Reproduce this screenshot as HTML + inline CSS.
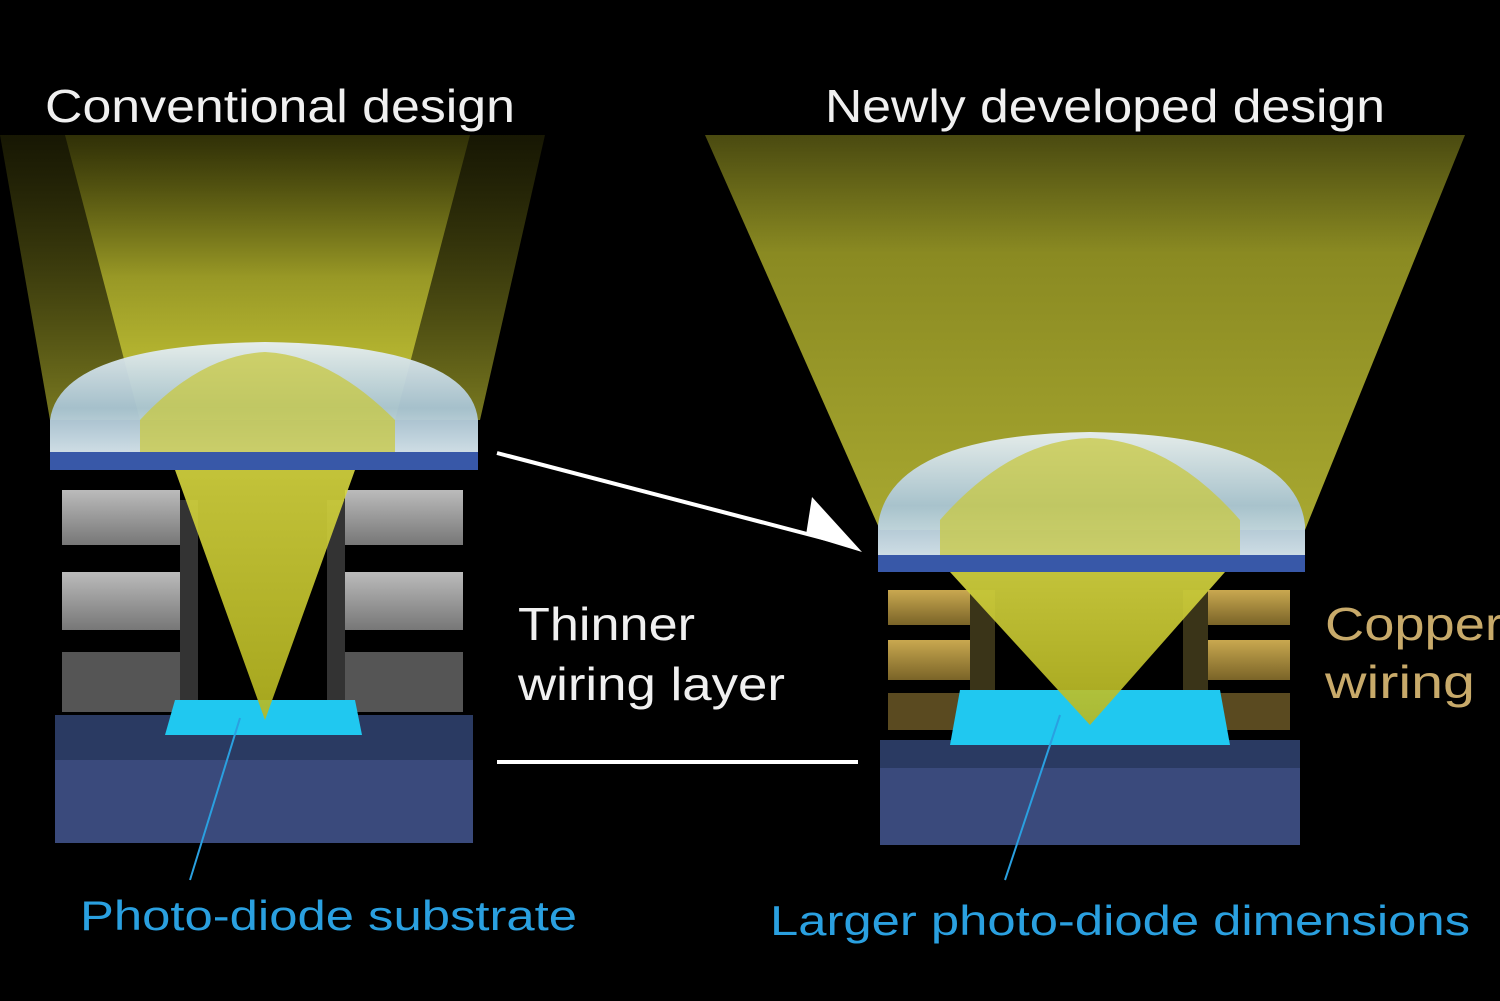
<!DOCTYPE html>
<html><head><meta charset="utf-8"><style>
html,body{margin:0;padding:0;background:#000;width:1500px;height:1001px;overflow:hidden}
svg{display:block}
text{font-family:"Liberation Sans","DejaVu Sans",sans-serif}
</style></head><body>
<svg width="1500" height="1001" viewBox="0 0 1500 1001" xmlns="http://www.w3.org/2000/svg">
<defs>
<linearGradient id="cone" x1="0" y1="0" x2="0" y2="1">
<stop offset="0" stop-color="#6a6a10" stop-opacity="0.3"/>
<stop offset="0.5" stop-color="#a8a82a" stop-opacity="0.85"/>
<stop offset="1" stop-color="#c8c838"/>
</linearGradient>
<linearGradient id="coneR" x1="0" y1="0" x2="0" y2="1">
<stop offset="0" stop-color="#4a4a10"/>
<stop offset="0.3" stop-color="#8a8a22"/>
<stop offset="1" stop-color="#a8a830"/>
</linearGradient>
<linearGradient id="cone2" x1="0" y1="0" x2="0" y2="1">
<stop offset="0" stop-color="#3a3a08" stop-opacity="0.4"/>
<stop offset="1" stop-color="#7a7a20"/>
</linearGradient>
<linearGradient id="lens" x1="0" y1="0" x2="0" y2="1">
<stop offset="0" stop-color="#e8f0f4"/>
<stop offset="0.6" stop-color="#a8c4d4"/>
<stop offset="1" stop-color="#d8e8f0"/>
</linearGradient>
<linearGradient id="tri" x1="0" y1="0" x2="0" y2="1">
<stop offset="0" stop-color="#d8d840"/>
<stop offset="1" stop-color="#b8b820"/>
</linearGradient>
<linearGradient id="gray" x1="0" y1="0" x2="0" y2="1">
<stop offset="0" stop-color="#bbb"/><stop offset="1" stop-color="#777"/>
</linearGradient>
<linearGradient id="cu" x1="0" y1="0" x2="0" y2="1">
<stop offset="0" stop-color="#c9a850"/><stop offset="1" stop-color="#7a6428"/>
</linearGradient>
</defs>

<!-- LEFT -->
<polygon points="0,135 545,135 480,420 50,420" fill="url(#cone2)"/>
<polygon points="65,135 470,135 395,420 140,420" fill="url(#cone)"/>
<path d="M50,420 Q60,345 265,342 Q470,345 478,420 L478,452 L50,452 Z" fill="url(#lens)" opacity="0.95"/>
<path d="M140,420 Q200,355 265,352 Q330,355 395,420 L395,452 L140,452 Z" fill="#c8c840" opacity="0.75"/>
<rect x="50" y="452" width="428" height="18" fill="#3858a8"/>
<g fill="url(#gray)">
<rect x="62" y="490" width="118" height="55"/><rect x="62" y="572" width="118" height="58"/><rect x="62" y="652" width="118" height="60" fill="#555"/>
<rect x="345" y="490" width="118" height="55"/><rect x="345" y="572" width="118" height="58"/><rect x="345" y="652" width="118" height="60" fill="#555"/>
</g>
<rect x="180" y="500" width="18" height="200" fill="#333"/><rect x="327" y="500" width="18" height="200" fill="#333"/>
<polygon points="55,715 473,715 473,760 55,760" fill="#2a3a62"/>
<rect x="55" y="760" width="418" height="83" fill="#3a4a7c"/>
<polygon points="175,700 355,700 362,735 165,735" fill="#20c8f0"/>
<polygon points="175,470 355,470 265,720" fill="url(#tri)" opacity="0.9"/>
<line x1="240" y1="718" x2="190" y2="880" stroke="#2aa0e0" stroke-width="2"/>

<!-- RIGHT -->
<polygon points="705,135 1465,135 1305,530 880,530" fill="url(#coneR)"/>
<path d="M878,525 Q890,435 1090,432 Q1295,435 1305,525 L1305,555 L878,555 Z" fill="url(#lens)" opacity="0.95"/>
<path d="M940,520 Q1010,440 1090,438 Q1170,440 1240,520 L1240,555 L940,555 Z" fill="#c8c840" opacity="0.75"/>
<rect x="878" y="555" width="427" height="17" fill="#3858a8"/>
<g fill="url(#cu)">
<rect x="888" y="590" width="82" height="35"/><rect x="888" y="640" width="82" height="40"/><rect x="888" y="693" width="82" height="37" fill="#5a4a20"/>
<rect x="1208" y="590" width="82" height="35"/><rect x="1208" y="640" width="82" height="40"/><rect x="1208" y="693" width="82" height="37" fill="#5a4a20"/>
</g>
<rect x="970" y="590" width="25" height="140" fill="#3a3418"/><rect x="1183" y="590" width="25" height="140" fill="#3a3418"/>
<rect x="880" y="740" width="420" height="28" fill="#2a3a62"/>
<rect x="880" y="768" width="420" height="77" fill="#3a4a7c"/>
<polygon points="960,690 1220,690 1230,745 950,745" fill="#20c8f0"/>
<polygon points="950,572 1225,572 1090,725" fill="url(#tri)" opacity="0.9"/>
<line x1="1060" y1="715" x2="1005" y2="880" stroke="#2aa0e0" stroke-width="2"/>

<!-- connectors -->
<line x1="497" y1="453" x2="830" y2="540" stroke="#fff" stroke-width="4"/>
<polygon points="862,552 812,497 806,535" fill="#fff"/>
<line x1="497" y1="762" x2="858" y2="762" stroke="#fff" stroke-width="4"/>

<!-- text -->
<text x="45" y="122" font-size="46" fill="#f0f0f0" textLength="470" lengthAdjust="spacingAndGlyphs">Conventional design</text>
<text x="825" y="122" font-size="46" fill="#f0f0f0" textLength="560" lengthAdjust="spacingAndGlyphs">Newly developed design</text>
<text x="518" y="640" font-size="46" fill="#f0f0f0" textLength="177" lengthAdjust="spacingAndGlyphs">Thinner</text>
<text x="518" y="700" font-size="46" fill="#f0f0f0" textLength="267" lengthAdjust="spacingAndGlyphs">wiring layer</text>
<text x="1325" y="640" font-size="46" fill="#c8aa6a" textLength="178" lengthAdjust="spacingAndGlyphs">Copper</text>
<text x="1325" y="698" font-size="46" fill="#c8aa6a" textLength="150" lengthAdjust="spacingAndGlyphs">wiring</text>
<text x="80" y="930" font-size="42" fill="#2aa0e0" textLength="497" lengthAdjust="spacingAndGlyphs">Photo-diode substrate</text>
<text x="770" y="935" font-size="42" fill="#2aa0e0" textLength="700" lengthAdjust="spacingAndGlyphs">Larger photo-diode dimensions</text>
</svg>
</body></html>
